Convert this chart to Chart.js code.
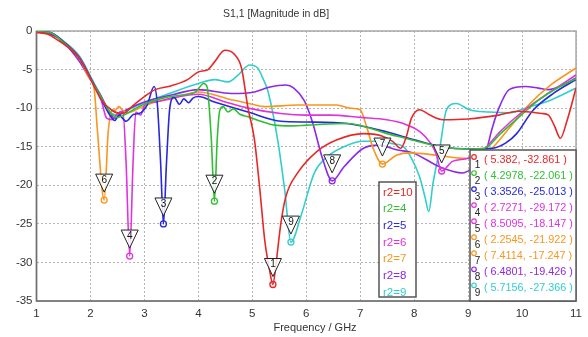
<!DOCTYPE html>
<html>
<head>
<meta charset="utf-8">
<script src="https://cdn.jsdelivr.net/npm/chart.js@4.4.1/dist/chart.umd.min.js"></script>
<style>
body{margin:0;background:#fff;}
canvas{display:block;}
</style>
</head>
<body>
<canvas id="s11Chart" width="588" height="337"></canvas>
<script>
// S1,1 sweep, one curve per r2 value (frequency in GHz, magnitude in dB)
const seriesNames=["r2=10","r2=4","r2=5","r2=6","r2=7","r2=8","r2=9"];
const seriesColors=["#e82828","#32be32","#2828dc","#e032e0","#f8961e","#8c28e6","#32cdcd"];

const r10Freq=[1,1.2,1.4,1.6,1.8,2.0,2.2,2.4,2.6,2.8,3.0,3.2,3.5,3.8,4.0,4.18,4.3,4.49,4.68,4.8,4.92,5.04,5.14,5.23,5.32,5.382,5.44,5.53,5.62,5.84,6.2,6.57,7.06,7.4,7.6,7.75,7.85,7.95,8.1,8.29,8.53,9.0,9.57,9.93,10.37,10.49,10.6,10.71,10.83,11];
const r10Db=[-0.2,-0.4,-1.2,-2.2,-3.6,-6.2,-8.9,-10.3,-10.7,-9.6,-8.5,-7.6,-7.1,-6.3,-5.3,-5.0,-4.0,-2.5,-3.1,-4.8,-10,-14.1,-20.6,-27.1,-31,-32.861,-30.1,-24.9,-21.5,-18.4,-15.6,-14.1,-13.3,-13.6,-14.3,-15.2,-13.8,-11.3,-10.2,-10.9,-11.5,-11.4,-10.9,-10.4,-10.7,-10.9,-12.3,-13.9,-11.7,-7.4];

const r4Freq=[1,1.25,1.5,1.8,2.04,2.2,2.35,2.5,2.7,2.9,3.1,3.4,3.7,3.95,4.1,4.16,4.24,4.2978,4.35,4.4,4.46,4.55,4.65,4.77,4.92,5.16,5.41,5.7,6.02,6.76,7.5,8.0,8.5,9.0,9.3,9.6,10.0,10.3,10.7,11];
const r4Db=[-0.1,-0.2,-1.5,-3.6,-6.7,-8.6,-10.4,-11.2,-10.6,-9.8,-9.2,-8.6,-8.3,-7.9,-6.8,-7.2,-14,-22.061,-14,-10.2,-9.8,-10.5,-10.1,-10.8,-11.1,-11.7,-12.2,-12.3,-12.2,-12.0,-13.3,-14.2,-15.0,-15.3,-15.2,-13.3,-10.8,-9.0,-7.2,-6.2];

const r5Freq=[1,1.25,1.5,1.8,2.04,2.2,2.35,2.45,2.53,2.66,2.8,2.9,3.05,3.18,3.24,3.3,3.3526,3.41,3.47,3.55,3.65,3.73,3.82,3.9,4.0,4.3,4.92,5.53,6.0,6.76,7.5,8.0,8.5,9.0,9.45,9.7,9.9,10.2,10.6,11];
const r5Db=[-0.1,-0.2,-1.4,-3.5,-6.6,-8.8,-10.8,-11.6,-10.9,-11.7,-10.8,-10.7,-9.6,-7.2,-9.5,-17,-25.013,-17,-10,-8.6,-9.5,-8.8,-9.3,-8.7,-8.5,-9.2,-10.5,-11.7,-11.8,-12,-13.1,-14.1,-15,-15.3,-15.2,-14.5,-13.3,-10.3,-8.0,-6.3];

const r6Freq=[1,1.25,1.5,1.8,2.04,2.2,2.3,2.4,2.5,2.6,2.66,2.7271,2.79,2.84,2.93,3.02,3.2,3.5,4.0,4.5,4.92,5.53,6.0,6.45,7.0,7.49,7.8,8.1,8.3,8.4,8.5095,8.71,9.0,9.3,9.6,10.0,10.5,11];
const r6Db=[-0.1,-0.2,-1.4,-3.5,-6.6,-9.0,-11.3,-11.5,-10.7,-10.4,-17,-29.172,-17,-10.5,-10.9,-9.4,-9.2,-8.7,-8.2,-9.2,-10.0,-10.7,-10.9,-10.9,-11.2,-11.5,-12.0,-13,-14.5,-15.8,-18.147,-16.9,-16.5,-15.3,-13,-10.5,-8,-5.7];

const r7Freq=[1,1.25,1.5,1.8,1.95,2.07,2.13,2.2545,2.33,2.41,2.45,2.53,2.6,2.7,2.9,3.2,3.5,4.0,4.61,5.0,5.23,5.84,6.57,6.8,7.0,7.1,7.25,7.4114,7.67,7.92,8.41,8.9,9.2,9.4,9.76,10.12,10.55,11];
const r7Db=[-0.1,-0.2,-1.4,-3.5,-5.8,-7.6,-13,-21.922,-13,-10.2,-10.3,-9.8,-10.3,-10.6,-10.0,-9.2,-8.8,-7.9,-8.9,-9.5,-9.8,-9.6,-9.6,-10.0,-10.2,-12.0,-15.4,-17.247,-16.1,-15.8,-16.1,-16.5,-16.3,-15.5,-12.6,-9.6,-6.9,-4.8];

const r8Freq=[1,1.2,1.4,1.6,1.8,1.98,2.17,2.38,2.45,2.6,3.0,3.5,4.0,4.61,5.04,5.31,5.62,5.77,5.96,6.11,6.3,6.4801,6.7,7.06,7.36,7.67,7.98,8.47,8.9,9.1,9.25,9.33,9.45,9.57,9.76,10.06,10.3,10.49,10.75,11];
const r8Db=[-0.1,-0.3,-0.9,-2.2,-4.0,-6.1,-8.1,-10.9,-11.3,-10.5,-9.2,-8.3,-7.6,-8.1,-7.9,-7.3,-7.0,-7.4,-9.0,-11.7,-16.5,-19.426,-17.6,-15.2,-14.8,-15.4,-15.8,-17.6,-18.4,-17.6,-16.3,-15.6,-12.5,-10,-7.6,-7.2,-7.4,-7.6,-7.0,-6.1];

const r9Freq=[1,1.25,1.5,1.8,2.04,2.2,2.35,2.5,2.7,3.0,3.5,4.0,4.3,4.55,4.74,4.95,5.1,5.2,5.29,5.47,5.6,5.7156,5.9,6.15,6.39,6.7,7.06,7.36,7.6,7.8,7.95,8.1,8.2,8.27,8.35,8.47,8.6,8.78,9.02,9.39,9.76,10.06,10.55,11];
const r9Db=[-0.1,-0.2,-1.3,-3.3,-6.4,-8.5,-10.4,-10.9,-10.2,-9.3,-8.0,-6.8,-6.3,-6.6,-5.7,-4.4,-4.8,-6.2,-7.8,-14.1,-20.6,-27.366,-24,-18.4,-16.3,-15,-14.3,-14.3,-14.6,-15,-16.5,-18.9,-21.5,-23.4,-19.7,-15.4,-10.2,-9.4,-10.2,-10.5,-10.6,-10,-8.9,-7.4];

const allFreq=[r10Freq,r4Freq,r5Freq,r6Freq,r7Freq,r8Freq,r9Freq];
const allDb=[r10Db,r4Db,r5Db,r6Db,r7Db,r8Db,r9Db];

// markers 1..9: frequency, value, which curve they sit on
const markerFreq=[5.382,4.2978,3.3526,2.7271,8.5095,2.2545,7.4114,6.4801,5.7156];
const markerDb=[-32.861,-22.061,-25.013,-29.172,-18.147,-21.922,-17.247,-19.426,-27.366];
const markerSeries=[0,1,2,3,3,4,4,5,6];

const xTicks=[1,2,3,4,5,6,7,8,9,10,11];
const yTicks=[0,-5,-10,-15,-20,-25,-30,-35];

const FONT="'Liberation Sans', Arial, sans-serif";

let datasets=seriesNames.map((name,i)=>({
label:name,
data:allFreq[i].map((f,j)=>({x:f,y:allDb[i][j]})),
borderColor:seriesColors[i],
borderWidth:1.6,
pointRadius:0,
fill:false,
cubicInterpolationMode:"monotone"
}));

const extras={
id:"extras",
beforeDatasetsDraw(chart){
let c=chart.ctx, a=chart.chartArea;
c.save();
c.lineWidth=1.5;
c.strokeStyle="#a8a8a8";
c.strokeRect(a.left,a.top,a.right-a.left,a.bottom-a.top);
c.strokeStyle="#707070";
c.beginPath();
c.moveTo(a.left,a.top);c.lineTo(a.left,a.bottom);c.lineTo(a.right,a.bottom);
c.stroke();
c.restore();
},
afterDatasetsDraw(chart){
let c=chart.ctx, xs=chart.scales.x, ys=chart.scales.y;
c.save();
markerFreq.forEach((f,i)=>{
let px=xs.getPixelForValue(f), py=ys.getPixelForValue(markerDb[i]);
let col=seriesColors[markerSeries[i]];
c.lineWidth=1.3;
c.strokeStyle=col;
c.beginPath();c.arc(px,py,3,0,Math.PI*2);c.stroke();
c.beginPath();
c.moveTo(px-8.5,py-26);c.lineTo(px+8.5,py-26);c.lineTo(px,py-8);c.closePath();
c.fillStyle="rgba(255,255,255,0.85)";
c.fill();
c.lineWidth=1;
c.strokeStyle="#222";
c.stroke();
c.fillStyle="#111";
c.font="10px "+FONT;
c.textAlign="center";c.textBaseline="middle";
c.fillText(String(i+1),px,py-20);
});
c.restore();
},
afterDraw(chart){
let c=chart.ctx, a=chart.chartArea;
c.save();
// title and axis title
c.fillStyle="#333";
c.font="10.5px "+FONT;
c.textAlign="center";c.textBaseline="middle";
c.fillText("S1,1 [Magnitude in dB]",276,14);
c.font="11px "+FONT;
c.fillText("Frequency / GHz",315,328);

// legend box
c.fillStyle="#fff";
c.fillRect(379,182,37,115);
c.lineWidth=1.5;c.strokeStyle="#555";
c.strokeRect(379,182,37,115);
c.font="11.5px "+FONT;
c.textAlign="left";
seriesNames.forEach((n,i)=>{
c.fillStyle=seriesColors[i];
c.fillText(n,383,192.5+16.7*i);
});

// marker table
let tx=470, ty=150, tw=a.right-470, th=a.bottom-150;
c.fillStyle="#fff";
c.fillRect(tx,ty,tw,th);
c.lineWidth=1.5;c.strokeStyle="#555";
c.strokeRect(tx,ty,tw,th);
markerFreq.forEach((f,i)=>{
let col=seriesColors[markerSeries[i]];
let yy=160+16.04*i;
c.lineWidth=1.2;c.strokeStyle=col;
c.beginPath();c.arc(474,yy-3,2.3,0,Math.PI*2);c.stroke();
c.fillStyle="#222";
c.font="10px "+FONT;
c.textAlign="center";
c.fillText(String(i+1),477.5,yy+5);
c.fillStyle=col;
c.font="10.8px "+FONT;
c.textAlign="left";
c.fillText("( "+f+", "+markerDb[i]+" )",484,yy);
});
c.restore();
}
};

new Chart(document.getElementById("s11Chart"),{
type:"line",
data:{datasets:datasets},
options:{
responsive:false,
animation:false,
devicePixelRatio:1,
layout:{padding:{top:31,right:7,left:0,bottom:0}},
scales:{
x:{
type:"linear",min:1,max:11,
afterBuildTicks(s){s.ticks=xTicks.map(v=>({value:v}));},
afterFit(s){s.height=36;},
grid:{color:"#b4b4b4",lineWidth:1,drawTicks:false},
border:{display:false,dash:[2,2]},
ticks:{color:"#333",padding:6,font:{family:FONT,size:11.5},maxRotation:0}
},
y:{
type:"linear",min:-35,max:0,
afterBuildTicks(s){s.ticks=yTicks.map(v=>({value:v}));},
afterFit(s){s.width=36.5;},
grid:{color:"#b4b4b4",lineWidth:1,drawTicks:false},
border:{display:false,dash:[2,2]},
ticks:{color:"#333",padding:4,font:{family:FONT,size:11.5}}
}
},
plugins:{
legend:{display:false},
tooltip:{enabled:false},
title:{display:false}
}
},
plugins:[extras]
});
</script>
</body>
</html>
